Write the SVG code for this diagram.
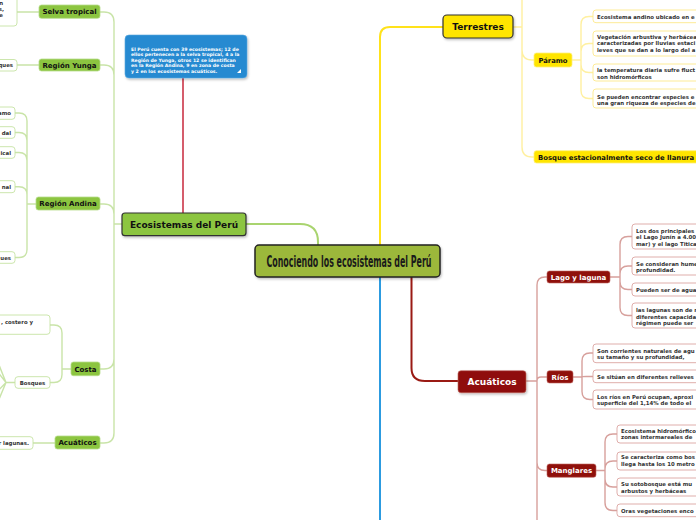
<svg xmlns="http://www.w3.org/2000/svg" width="696" height="520" viewBox="0 0 696 520">
<defs>
<style>
.t{font-family:"DejaVu Sans",Verdana,sans-serif;font-weight:bold;}
.c{font-size:5.4px;fill:#333;}
.cw{font-size:4.6px;fill:#fff;}
.gn{fill:#8cc540;stroke:#b6dc8a;stroke-width:0.8;}
.gc{fill:#fff;stroke:#c6e3a4;stroke-width:0.9;}
.yn{fill:#ffe500;stroke:#fff07a;stroke-width:0.8;}
.yc{fill:#fff;stroke:#fde98b;stroke-width:0.9;}
.rn{fill:#8f100b;stroke:#c06560;stroke-width:0.6;}
.rc{fill:#fff;stroke:#dba5a2;stroke-width:0.9;}
.lg{fill:none;stroke:#c9e4a8;stroke-width:1.4;}
.ly{fill:none;stroke:#fff0a0;stroke-width:1.4;}
.lr{fill:none;stroke:#d7a09c;stroke-width:1.4;}
</style>
<filter id="sh" x="-10%" y="-20%" width="130%" height="160%">
<feDropShadow dx="1" dy="1.5" stdDeviation="1" flood-color="#000" flood-opacity="0.25"/>
</filter>
</defs>
<rect width="696" height="520" fill="#fff"/>
<g id="connectors">
<path d="M246,224 H300 Q318,224 318,242 V246" fill="none" stroke="#a9d46f" stroke-width="2"/>
<path d="M183,78 V213" fill="none" stroke="#c7273b" stroke-width="1.5"/>
<path d="M380,246 V37 Q380,27 390,27 H443" fill="none" stroke="#ffe21a" stroke-width="2"/>
<path d="M380,277 V520" fill="none" stroke="#2c9be0" stroke-width="2"/>
<path d="M411.5,277 V368 Q411.5,381 425,381 H458" fill="none" stroke="#9a1a14" stroke-width="2"/>
<path class="lg" d="M122,224 H114 M114,224 V22 Q114,12 104,12 H100 M114,224 V75 Q114,65 104,65 H100 M114,224 V214 Q114,204 104,204 H100 M114,224 V359 Q114,369 104,369 H100 M114,224 V433 Q114,443 104,443 H100"/>
<path class="lg" d="M39,12 H17 M39,65 H17 M55,443 H33"/>
<path class="lg" d="M36,204 H27 M27,204 V121 Q27,113 19,113 H15 M27,204 V140.5 Q27,132.5 19,132.5 H15 M27,204 V160.5 Q27,152.5 19,152.5 H15 M27,204 V194.7 Q27,186.7 19,186.7 H15 M27,204 V249.5 Q27,257.5 19,257.5 H15"/>
<path class="lg" d="M71,369 H62 M62,369 V333 Q62,325 54,325 H50 M62,369 V374.5 Q62,382.5 54,382.5 H50"/>
<path class="lg" d="M15,382.5 H6 M6,382.5 L-3,360 M6,382.5 L-3,371 M6,382.5 L-3,392 M6,382.5 L-3,404"/>
<path class="ly" d="M513,27 H522 M522,0 V147 Q522,157 532,157 H534 M522,50 Q522,60 532,60 H534"/>
<path class="ly" d="M572,60 H581 M581,60 V24.5 Q581,16.5 589,16.5 H593 M581,60 V51.5 Q581,43.5 589,43.5 H593 M581,60 V64.5 Q581,72.5 589,72.5 H593 M581,60 V90.5 Q581,98.5 589,98.5 H593"/>
<path class="lr" d="M526,381 H537 M537,520 V285 Q537,277 545,277 H547 M537,381 Q537,377 541,377 H547 M537,381 V462.5 Q537,470.5 545,470.5 H547"/>
<path class="lr" d="M610,277 H620 M620,277 V244.5 Q620,236.5 628,236.5 H632 M620,277 V274 Q620,266 628,266 H632 M620,277 V281.5 Q620,289.5 628,289.5 H632 M620,277 V307.5 Q620,315.5 628,315.5 H632"/>
<path class="lr" d="M573,377 H582 M582,377 V361 Q582,353 590,353 H593 M582,377 Q582,376.5 586,376.5 H593 M582,377 V391.5 Q582,399.5 590,399.5 H593"/>
<path class="lr" d="M596,470.5 H605 M605,470.5 V442 Q605,434 613,434 H617 M605,470.5 V469 Q605,461 613,461 H617 M605,470.5 V479 Q605,487 613,487 H617 M605,470.5 V502.5 Q605,510.5 613,510.5 H617"/>
</g>
<g id="center">
<rect x="255" y="245" width="185" height="32" rx="4" fill="#9cb83a" stroke="#222" stroke-width="1.5" filter="url(#sh)"/>
<text x="266.5" y="266.5" textLength="165" lengthAdjust="spacingAndGlyphs" font-family="'DejaVu Sans Condensed','DejaVu Sans',sans-serif" font-stretch="condensed" font-weight="bold" font-size="15" fill="#1a1a1a">Conociendo los ecosistemas del Perú</text>
</g>
<g id="ecosistemas-peru">
<rect x="122" y="213" width="124" height="22.7" rx="3" fill="#8cc540" stroke="#333" stroke-width="1.2" filter="url(#sh)"/>
<text class="t" x="184" y="227.7" font-size="9" text-anchor="middle" fill="#111">Ecosistemas del Perú</text>
</g>
<g id="nota">
<rect x="125" y="35" width="122" height="43" rx="4" fill="#258ad1" stroke="#5aa9e0" stroke-width="0.6" filter="url(#sh)"/>
<text class="t cw" x="131" y="50.5">El Perú cuenta con 39 ecosistemas; 12 de</text>
<text class="t cw" x="131" y="56">ellos pertenecen a la selva tropical, 4 a la</text>
<text class="t cw" x="131" y="61.5">Región de Yunga, otros 12 se identifican</text>
<text class="t cw" x="131" y="67">en la Región Andina, 9 en zona de costa</text>
<text class="t cw" x="131" y="72.5">y 2 en los ecosistemas acuáticos.</text>
<polygon points="241,69 241,73 237,73" fill="#fff"/>
</g>
<g id="selva">
<rect class="gn" x="39" y="5" width="61" height="13.3" rx="2.5"/>
<text class="t" x="69.5" y="14.3" font-size="7" text-anchor="middle" fill="#111">Selva tropical</text>
</g>
<g id="selva-hijo">
<rect class="gc" x="-20" y="-10" width="37" height="36" rx="3"/>
<text class="t c" x="3" y="5" text-anchor="end">n</text>
<text class="t c" x="4" y="11" text-anchor="end">s,</text>
<text class="t c" x="3" y="17" text-anchor="end">e</text>
</g>
<g id="yunga">
<rect class="gn" x="39" y="59" width="61" height="12" rx="2.5"/>
<text class="t" x="69.5" y="67.6" font-size="7" text-anchor="middle" fill="#111">Región Yunga</text>
</g>
<g id="yunga-hijo">
<rect class="gc" x="-20" y="59.5" width="37" height="11.5" rx="3"/>
<text class="t c" x="13" y="67.3" text-anchor="end">ques</text>
</g>
<g id="andina">
<rect class="gn" x="36" y="197" width="64" height="13" rx="2.5"/>
<text class="t" x="68" y="206.2" font-size="7" text-anchor="middle" fill="#111">Región Andina</text>
</g>
<g id="andina-hijos">
<rect class="gc" x="-20" y="107" width="35" height="12.3" rx="3"/>
<text class="t c" x="11" y="115" text-anchor="end">amo</text>
<rect class="gc" x="-20" y="126.7" width="35" height="11.6" rx="3"/>
<text class="t c" x="11" y="134.5" text-anchor="end">dal</text>
<rect class="gc" x="-20" y="146.7" width="35" height="11.6" rx="3"/>
<text class="t c" x="11" y="154.5" text-anchor="end">ical</text>
<rect class="gc" x="-20" y="180.7" width="35" height="12" rx="3"/>
<text class="t c" x="11" y="188.7" text-anchor="end">nal</text>
<rect class="gc" x="-20" y="251.7" width="35" height="11.6" rx="3"/>
<text class="t c" x="11" y="259.5" text-anchor="end">ues</text>
</g>
<g id="costa">
<rect class="gn" x="71" y="362" width="29" height="13.7" rx="2.5"/>
<text class="t" x="85.5" y="371.6" font-size="7" text-anchor="middle" fill="#111">Costa</text>
</g>
<g id="costa-hijos">
<rect class="gc" x="-20" y="315" width="70" height="19.3" rx="3"/>
<text class="t c" x="33" y="324.3" text-anchor="end">, costero y</text>
<rect class="gc" x="15" y="376.7" width="35" height="11.6" rx="3"/>
<text class="t c" x="32.5" y="384.6" text-anchor="middle">Bosques</text>
</g>
<g id="acuaticos-izq">
<rect class="gn" x="55" y="436" width="45" height="13" rx="2.5"/>
<text class="t" x="77.5" y="445.3" font-size="7" text-anchor="middle" fill="#111">Acuáticos</text>
</g>
<g id="acuaticos-izq-hijo">
<rect class="gc" x="-20" y="436.7" width="53" height="12.6" rx="3"/>
<text class="t c" x="29" y="445" text-anchor="end">r lagunas.</text>
</g>
<g id="terrestres">
<rect x="443" y="15" width="70" height="23" rx="4" fill="#ffe500" stroke="#333" stroke-width="1.2" filter="url(#sh)"/>
<text class="t" x="478" y="30.3" font-size="9" text-anchor="middle" fill="#111">Terrestres</text>
</g>
<g id="paramo">
<rect class="yn" x="534" y="53" width="38" height="14" rx="2.5"/>
<text class="t" x="553" y="62.5" font-size="6.8" text-anchor="middle" fill="#111">Páramo</text>
</g>
<g id="paramo-hijos">
<rect class="yc" x="593" y="10" width="120" height="12.7" rx="3"/>
<text class="t c" x="597" y="18.5">Ecosistema andino ubicado en e</text>
<rect class="yc" x="593" y="31" width="120" height="25" rx="3"/>
<text class="t c" x="597" y="38.5">Vegetación arbustiva y herbácea</text>
<text class="t c" x="597" y="45">caracterizadas por lluvias estaci</text>
<text class="t c" x="597" y="51.5">leves que se dan a lo largo del a</text>
<rect class="yc" x="593" y="64" width="120" height="17" rx="3"/>
<text class="t c" x="597" y="72">la temperatura diaria sufre fluct</text>
<text class="t c" x="597" y="78.5">son hidromórficos</text>
<rect class="yc" x="593" y="89" width="120" height="19" rx="3"/>
<text class="t c" x="597" y="99">Se pueden encontrar especies e</text>
<text class="t c" x="597" y="105">una gran riqueza de especies de</text>
</g>
<g id="bosque-seco">
<rect class="yn" x="534" y="150.7" width="200" height="12.3" rx="2.5"/>
<text class="t" x="538" y="159.7" font-size="6.8" textLength="156" lengthAdjust="spacingAndGlyphs" fill="#111">Bosque estacionalmente seco de llanura</text>
</g>
<g id="acuaticos">
<rect class="rn" x="458" y="370.7" width="68" height="22" rx="3" filter="url(#sh)"/>
<text class="t" x="492" y="385" font-size="9" text-anchor="middle" fill="#fff">Acuáticos</text>
</g>
<g id="lago">
<rect class="rn" x="547" y="271" width="63" height="12" rx="2.5"/>
<text class="t" x="578.5" y="279.7" font-size="7" text-anchor="middle" fill="#fff">Lago y laguna</text>
</g>
<g id="lago-hijos">
<rect class="rc" x="632" y="224" width="100" height="25" rx="3"/>
<text class="t c" x="636" y="232.5">Los dos principales</text>
<text class="t c" x="636" y="239">el Lago Junín a 4.00</text>
<text class="t c" x="636" y="245.5">mar) y el lago Titica</text>
<rect class="rc" x="632" y="257" width="100" height="18" rx="3"/>
<text class="t c" x="636" y="265.8">Se consideran hume</text>
<text class="t c" x="636" y="271.8">profundidad.</text>
<rect class="rc" x="632" y="283" width="100" height="13" rx="3"/>
<text class="t c" x="636" y="291.8">Pueden ser de agua</text>
<rect class="rc" x="632" y="303" width="100" height="25" rx="3"/>
<text class="t c" x="636" y="311.8">las lagunas son de r</text>
<text class="t c" x="636" y="318.5">diferentes capacidad</text>
<text class="t c" x="636" y="325">régimen puede ser</text>
</g>
<g id="rios">
<rect class="rn" x="547" y="370.7" width="26" height="12.3" rx="2.5"/>
<text class="t" x="560" y="379.5" font-size="7" text-anchor="middle" fill="#fff">Ríos</text>
</g>
<g id="rios-hijos">
<rect class="rc" x="593" y="344" width="120" height="18.7" rx="3"/>
<text class="t c" x="597" y="353">Son corrientes naturales de agu</text>
<text class="t c" x="597" y="359">su tamaño y su profundidad,</text>
<rect class="rc" x="593" y="370" width="120" height="12.7" rx="3"/>
<text class="t c" x="597" y="378.8">Se sitúan en diferentes relieves</text>
<rect class="rc" x="593" y="390" width="120" height="19" rx="3"/>
<text class="t c" x="597" y="399">Los ríos en Perú ocupan, aproxi</text>
<text class="t c" x="597" y="405">superficie del 1,14% de todo el</text>
</g>
<g id="manglares">
<rect class="rn" x="547" y="464" width="49" height="13.3" rx="2.5"/>
<text class="t" x="571.5" y="473.3" font-size="7" text-anchor="middle" fill="#fff">Manglares</text>
</g>
<g id="manglares-hijos">
<rect class="rc" x="617" y="425" width="100" height="18" rx="3"/>
<text class="t c" x="621" y="432.5">Ecosistema hidromórfico</text>
<text class="t c" x="621" y="438.8">zonas intermareales de</text>
<rect class="rc" x="617" y="452" width="100" height="18" rx="3"/>
<text class="t c" x="621" y="459.3">Se caracteriza como bos</text>
<text class="t c" x="621" y="465.7">llega hasta los 10 metro</text>
<rect class="rc" x="617" y="478" width="100" height="18" rx="3"/>
<text class="t c" x="621" y="486.2"> Su sotobosque está mu</text>
<text class="t c" x="621" y="492.7">arbustos y herbáceas</text>
<rect class="rc" x="617" y="504" width="100" height="12.7" rx="3"/>
<text class="t c" x="621" y="512.5">Oras vegetaciones enco</text>
</g>
</svg>
